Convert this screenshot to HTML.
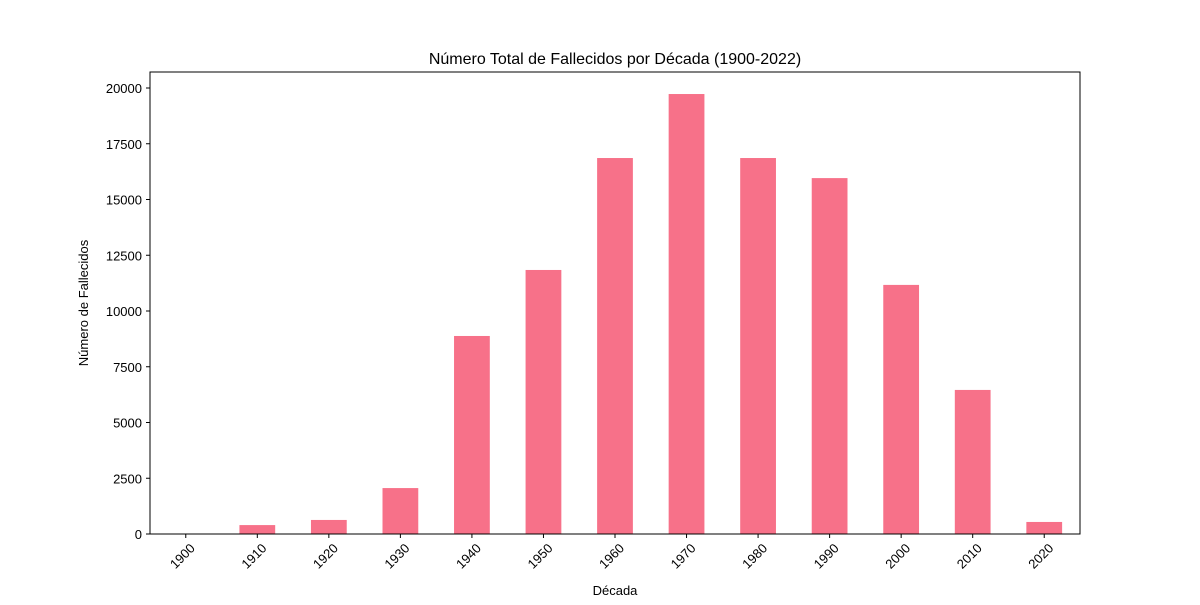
<!DOCTYPE html>
<html><head><meta charset="utf-8"><style>
body{margin:0;background:#fff;font-family:"Liberation Sans","DejaVu Sans",sans-serif}
</style></head><body>
<svg id="chart" width="1200" height="600" xmlns="http://www.w3.org/2000/svg">
<rect width="1200" height="600" fill="#fff"/>
<text x="615" y="64" text-anchor="middle" font-size="16">Número Total de Fallecidos por Década (1900-2022)</text>
<g id="bars"></g><g id="yticks"></g><g id="xticks"></g>
<rect x="150" y="72" width="930" height="462" fill="none" stroke="#000" stroke-width="1"/>
<text x="615" y="595" text-anchor="middle" font-size="13">Década</text>
<text transform="translate(88,303) rotate(-90)" text-anchor="middle" font-size="13">Número de Fallecidos</text>
</svg>
<script>
const categories=["1900","1910","1920","1930","1940","1950","1960","1970","1980","1990","2000","2010","2020"];
const values=[10,400,630,2060,8880,11840,16860,19730,16860,15960,11170,6460,540];
const yTicks=[0,2500,5000,7500,10000,12500,15000,17500,20000];
const X0=150,W=930,Y0=534,YT=88,YMAX=20000;
const step=W/categories.length;
const xc=i=>X0+step*(i+0.5);
const y=v=>Y0-(v/YMAX)*(Y0-YT);
const ns="http://www.w3.org/2000/svg";
function mk(t,a){const e=document.createElementNS(ns,t);for(const k in a)e.setAttribute(k,a[k]);return e;}
const bars=document.getElementById('bars'),yt=document.getElementById('yticks'),xt=document.getElementById('xticks');
values.forEach((v,i)=>{
 const r=mk('rect',{x:xc(i)-step*0.25,y:y(v),width:step*0.5,height:Y0-y(v),fill:'#f77189'});
 
 
 bars.appendChild(r);
 const l=mk('line',{x1:xc(i),x2:xc(i),y1:Y0,y2:Y0+4,stroke:'#000'});
 
 
 xt.appendChild(l);
 const t=mk('text',{x:0,y:0,'font-size':13,'text-anchor':'end',transform:`translate(${xc(i)+10},${Y0+15}) rotate(-45)`});
 t.textContent=categories[i];
 
 
 xt.appendChild(t);
});
yTicks.forEach(v=>{
 const l=mk('line',{x1:X0-4,x2:X0,y1:y(v),y2:y(v),stroke:'#000'});
 
 
 yt.appendChild(l);
 const t=mk('text',{x:X0-8,y:y(v)+5,'font-size':13,'text-anchor':'end'});
 t.textContent=v;
 
 
 yt.appendChild(t);
});
</script>
</body></html>
